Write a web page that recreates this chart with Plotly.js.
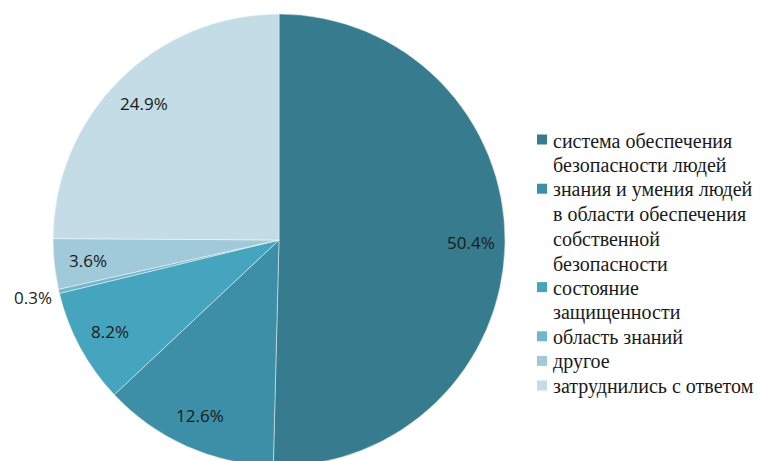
<!DOCTYPE html>
<html><head><meta charset="utf-8">
<script src="https://cdn.plot.ly/plotly-3.0.1.min.js"></script>
<style>html,body{margin:0;padding:0;overflow:hidden;background:#fff;}#chart{width:773px;height:475px;}</style>
</head><body><div id="chart"></div>
<script>
const categories = [
  "система обеспечения<br>безопасности людей",
  "знания и умения людей<br>в области обеспечения<br>собственной<br>безопасности",
  "состояние<br>защищенности",
  "область знаний",
  "другое",
  "затруднились с ответом"
];
const values = [50.4, 12.6, 8.2, 0.3, 3.6, 24.9];
const valueLabels = ["50.4%", "12.6%", "8.2%", "0.3%", "3.6%", "24.9%"];
const colors = ["#367C8E", "#3D8FA8", "#46A5BE", "#70B7CC", "#A0C9DA", "#C3DCE5"];

const W = 773, H = 475;
const cx = 279, cy = 240, R = 226;
const domX = [(cx - R) / W, (cx + R) / W];
const domY = [1 - (cy + R) / H, 1 - (cy - R) / H];
const SERIF = "Times New Roman, Liberation Serif, serif";

const total = values.reduce((a, b) => a + b, 0);
const annotations = [];
const shapes = [];
let cum = 0;
values.forEach((v, i) => {
  const mid = (cum + v / 2) / total * 2 * Math.PI;
  cum += v;
  const frac = v < 1 ? 1.12 : 0.85;
  const px = cx + R * frac * Math.sin(mid);
  const py = cy - R * frac * Math.cos(mid);
  annotations.push({
    x: px / W, y: 1 - py / H, xref: "paper", yref: "paper",
    xanchor: "center", yanchor: "middle",
    text: valueLabels[i], showarrow: false,
    font: {family: "Open Sans", size: 17, color: "#1a1a1a"}
  });
});

// Custom legend (serif text), one text line per row
const legX = 551, legTop = 140.5, legStep = 24.6, fs = 20;
let row = 0;
categories.forEach((c, i) => {
  const ly = legTop + row * legStep;
  shapes.push({
    type: "rect", xref: "paper", yref: "paper",
    x0: 537 / W, x1: 547 / W, y0: 1 - (ly - 6) / H, y1: 1 - (ly + 4) / H,
    fillcolor: colors[i], line: {width: 0}
  });
  c.split("<br>").forEach(line => {
    const y = legTop + row * legStep;
    annotations.push({
      x: legX / W, y: 1 - y / H, xref: "paper", yref: "paper",
      xanchor: "left", yanchor: "middle", showarrow: false,
      text: line, align: "left",
      font: {family: SERIF, size: fs, color: "#1a1a1a"}
    });
    row++;
  });
});

const data = [{
  type: "pie",
  labels: categories,
  values: values,
  sort: false,
  direction: "clockwise",
  rotation: 0,
  textinfo: "none",
  hoverinfo: "label+percent",
  showlegend: false,
  marker: {colors: colors, line: {color: "rgba(255,255,255,0.45)", width: 1}},
  domain: {x: domX, y: domY}
}];

const layout = {
  width: W, height: H,
  margin: {l: 0, r: 0, t: 0, b: 0},
  paper_bgcolor: "#ffffff",
  font: {family: SERIF},
  showlegend: false,
  annotations: annotations,
  shapes: shapes
};
Plotly.newPlot("chart", data, layout, {displayModeBar: false, staticPlot: true});
</script>
</body></html>
